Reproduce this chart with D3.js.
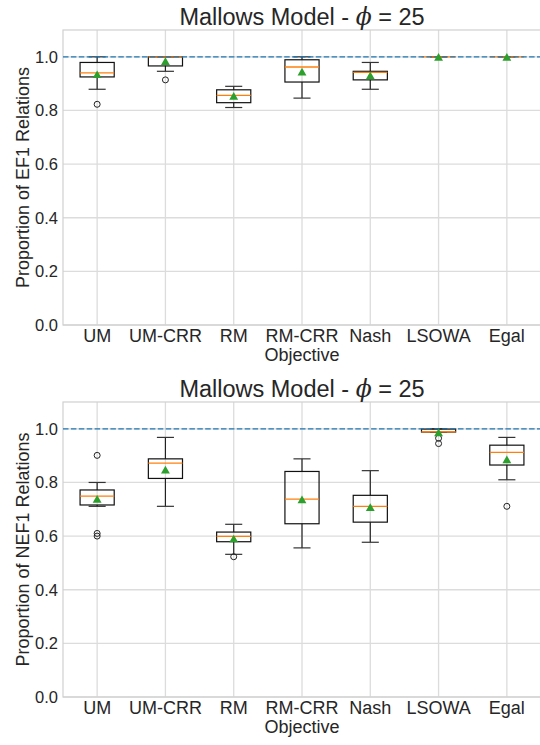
<!DOCTYPE html>
<html>
<head>
<meta charset="utf-8">
<script src="https://cdn.jsdelivr.net/npm/d3@7"></script>
<style>
  body { margin: 0; background: #fff; }
  text { font-family: "Liberation Sans", Arial, sans-serif; fill: #262626; }
</style>
</head>
<body>
<script>
// categories on the x axis
var objectives = ["UM", "UM-CRR", "RM", "RM-CRR", "Nash", "LSOWA", "Egal"]
var yTicks = [0.0, 0.2, 0.4, 0.6, 0.8, 1.0]

// EF1 panel (top)
var ef1Low  = [0.879, 0.946, 0.811, 0.846, 0.879, 1.0, 1.0]
var ef1Q1   = [0.925, 0.966, 0.829, 0.906, 0.914, 1.0, 1.0]
var ef1Med  = [0.940, 1.0,   0.856, 0.962, 0.942, 1.0, 1.0]
var ef1Q3   = [0.979, 1.0,   0.877, 0.989, 0.946, 1.0, 1.0]
var ef1High = [1.0,   1.0,   0.890, 1.0,   0.979, 1.0, 1.0]
var ef1Mean = [0.934, 0.983, 0.853, 0.944, 0.930, 0.999, 0.999]
var ef1Outliers = [[0.823], [0.914], [], [], [], [], []]

// NEF1 panel (bottom)
var nef1Low  = [0.711, 0.711, 0.532, 0.556, 0.577, 0.988, 0.810]
var nef1Q1   = [0.716, 0.815, 0.579, 0.646, 0.652, 0.988, 0.865]
var nef1Med  = [0.749, 0.872, 0.599, 0.738, 0.711, 0.989, 0.912]
var nef1Q3   = [0.772, 0.888, 0.615, 0.841, 0.752, 0.999, 0.939]
var nef1High = [0.800, 0.968, 0.644, 0.888, 0.844, 1.0,   0.968]
var nef1Mean = [0.738, 0.847, 0.590, 0.736, 0.707, 0.986, 0.885]
var nef1Outliers = [[0.901, 0.610, 0.600], [], [0.523], [], [], [0.965, 0.945], [0.711]]

var svg = d3.select("body").append("svg").attr("width", 540).attr("height", 745)

function panel(top, yLabel, low, q1, med, q3, high, mean, outliers) {
  var x = d3.scaleBand().domain(objectives).range([63, 541]).padding(0)
  var y = d3.scaleLinear().domain([0, 1.1]).range([top + 295, top])
  var cx = function(i) { return x(objectives[i]) + x.bandwidth() / 2 }
  var bw = x.bandwidth() * 0.5

  var g = svg.append("g")

  // grid
  g.selectAll(".hg").data(yTicks).enter().append("line")
    .attr("x1", 63).attr("x2", 541)
    .attr("y1", function(d) { return y(d) }).attr("y2", function(d) { return y(d) })
    .attr("stroke", "#dcdcdc").attr("stroke-width", 1.3)
  g.selectAll(".vg").data(objectives).enter().append("line")
    .attr("x1", function(d, i) { return cx(i) }).attr("x2", function(d, i) { return cx(i) })
    .attr("y1", top).attr("y2", top + 295)
    .attr("stroke", "#dcdcdc").attr("stroke-width", 1.3)

  // frame
  g.append("rect").attr("x", 63).attr("y", top).attr("width", 478).attr("height", 295)
    .attr("fill", "none").attr("stroke", "#d0d0d0").attr("stroke-width", 1.2)

  // y tick labels
  g.selectAll(".yt").data(yTicks).enter().append("text")
    .attr("x", 58).attr("y", function(d) { return y(d) + 6 })
    .attr("text-anchor", "end").style("font-size", "16.5px")
    .text(function(d) { return d.toFixed(1) })

  // x tick labels
  g.selectAll(".xt").data(objectives).enter().append("text")
    .attr("x", function(d, i) { return cx(i) }).attr("y", top + 295 + 17)
    .attr("text-anchor", "middle").style("font-size", "18px")
    .text(function(d) { return d })

  // axis labels
  g.append("text").attr("x", 302).attr("y", top + 295 + 36)
    .attr("text-anchor", "middle").style("font-size", "18px").text("Objective")
  g.append("text").attr("transform", "translate(29," + (top + 147.5) + ") rotate(-90)")
    .attr("text-anchor", "middle").style("font-size", "18px").text(yLabel)

  // title
  var t = g.append("text").attr("x", 302).attr("y", top - 5)
    .attr("text-anchor", "middle").style("font-size", "23.5px")
  t.append("tspan").text("Mallows Model - ")
  t.append("tspan").style("font-family", "DejaVu Serif").style("font-style", "italic").text("\u03d5")
  t.append("tspan").text(" = 25")

  // boxes and whiskers
  objectives.forEach(function(o, i) {
    var c = cx(i)
    g.append("line").attr("x1", c).attr("x2", c).attr("y1", y(q1[i])).attr("y2", y(low[i]))
      .attr("stroke", "#222").attr("stroke-width", 1.2)
    g.append("line").attr("x1", c).attr("x2", c).attr("y1", y(q3[i])).attr("y2", y(high[i]))
      .attr("stroke", "#222").attr("stroke-width", 1.2)
    g.append("line").attr("x1", c - bw / 4).attr("x2", c + bw / 4).attr("y1", y(low[i])).attr("y2", y(low[i]))
      .attr("stroke", "#333").attr("stroke-width", 1.2)
    g.append("line").attr("x1", c - bw / 4).attr("x2", c + bw / 4).attr("y1", y(high[i])).attr("y2", y(high[i]))
      .attr("stroke", "#333").attr("stroke-width", 1.2)
    g.append("rect").attr("x", c - bw / 2).attr("y", y(q3[i]))
      .attr("width", bw).attr("height", Math.max(0, y(q1[i]) - y(q3[i])))
      .attr("fill", "none").attr("stroke", "#111").attr("stroke-width", 1.2)
    g.append("line").attr("x1", c - bw / 2).attr("x2", c + bw / 2).attr("y1", y(med[i])).attr("y2", y(med[i]))
      .attr("stroke", "#ff7f0e").attr("stroke-width", 1.3)
    outliers[i].forEach(function(v) {
      g.append("circle").attr("cx", c).attr("cy", y(v)).attr("r", 3)
        .attr("fill", "none").attr("stroke", "#222").attr("stroke-width", 1)
    })
  })

  // reference line at 1.0
  g.append("line").attr("x1", 63).attr("x2", 541).attr("y1", y(1)).attr("y2", y(1))
    .attr("stroke", "#1f77b4").attr("stroke-width", 1.3).attr("stroke-dasharray", "5.5,2.4")

  // means
  g.selectAll(".mean").data(mean).enter().append("path")
    .attr("d", d3.symbol().type(d3.symbolTriangle).size(34))
    .attr("transform", function(d, i) { return "translate(" + cx(i) + "," + (y(d) + 1) + ")" })
    .attr("fill", "#2ca02c")
}

panel(30, "Proportion of EF1 Relations", ef1Low, ef1Q1, ef1Med, ef1Q3, ef1High, ef1Mean, ef1Outliers)
panel(402, "Proportion of NEF1 Relations", nef1Low, nef1Q1, nef1Med, nef1Q3, nef1High, nef1Mean, nef1Outliers)
</script>
</body>
</html>
